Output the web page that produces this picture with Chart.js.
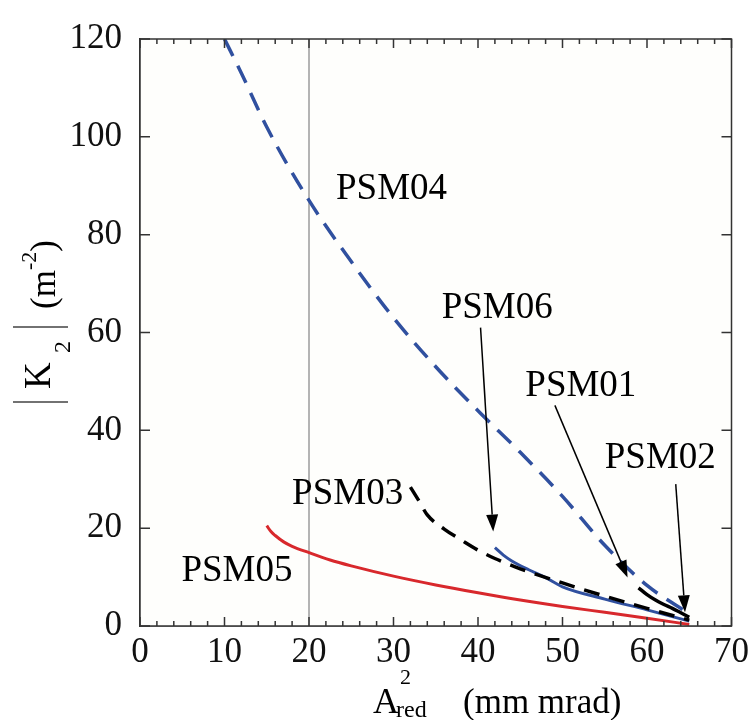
<!DOCTYPE html>
<html>
<head>
<meta charset="utf-8">
<script src="https://cdn.jsdelivr.net/npm/chart.js@4.4.0/dist/chart.umd.min.js"></script>
<style>
  html, body { margin: 0; padding: 0; background: #fff; }
  #wrap { width: 755px; height: 720px; }
</style>
</head>
<body>
<div id="wrap"><canvas id="chart" width="755" height="720"></canvas></div>
<script>
// curves: A2red (mm mrad) vs |K2| (m^-2)
const psm04X = [10, 12, 15, 20, 25, 30, 35, 40, 45, 50, 55, 60, 65];
const psm04Y = [120, 113, 102, 87, 74.5, 63, 53, 44, 35.5, 26.5, 16.5, 8.3, 2.5];

const psm05X = [15, 15.5, 16, 17, 18, 20, 22.5, 25, 30, 35, 40, 45, 50, 55, 60, 65];
const psm05Y = [20.5, 19.3, 18.5, 17.2, 16.3, 15, 13.5, 12.3, 10.2, 8.4, 6.8, 5.3, 4.0, 2.8, 1.6, 0.3];

const psm03X = [32, 33, 34, 36, 38, 40, 42, 45, 50, 55, 60, 65];
const psm03Y = [28.4, 25.6, 22.7, 19.8, 17.6, 15.5, 13.8, 11.7, 8.8, 6.1, 3.6, 1.2];

const psm06X = [42, 43, 44, 46, 48, 50, 55, 60, 65];
const psm06Y = [16, 14.5, 13.3, 11.5, 9.9, 8.0, 5.5, 3.3, 1.0];

const psm01X = [59, 60, 61, 62, 63, 64, 65];
const psm01Y = [7.8, 6.4, 5.3, 4.4, 3.6, 2.7, 1.8];

const markerX = 20;

// curve labels, left end of baseline in data units
const labelNames = ['PSM04', 'PSM06', 'PSM01', 'PSM02', 'PSM03', 'PSM05'];
const labelX = [23.2, 35.7, 45.6, 55.0, 18.0, 4.9];
const labelY = [87.2, 63.0, 47.1, 32.4, 25.0, 9.3];

// arrows: from (x0,y0) to tip (x1,y1)
const arrowX0 = [40.3, 49.1, 63.4];
const arrowY0 = [61, 45.1, 29];
const arrowX1 = [41.8, 57.7, 64.5];
const arrowY1 = [19.3, 9.9, 2.8];

const xTicks = [0, 10, 20, 30, 40, 50, 60, 70];
const yTicks = [0, 20, 40, 60, 80, 100, 120];

const SERIF = '"Liberation Serif", "Times New Roman", Times, serif';
const BLUE = '#30509f';
const RED = '#d8282c';

function pts(xs, ys) {
    return xs.map((x, i) => ({x: x, y: ys[i]}));
}

const frame = {
    id: 'frame',
    beforeDatasetsDraw(chart) {
        const {ctx, chartArea: a} = chart;
        ctx.save();
        ctx.fillStyle = '#fefefc';
        ctx.fillRect(a.left, a.top, a.right - a.left, a.bottom - a.top);
        ctx.restore();
    },
    afterDraw(chart) {
        const {ctx, chartArea: a, scales} = chart;
        const xs = scales.x, ys = scales.y;
        ctx.save();
        ctx.strokeStyle = '#333';
        ctx.lineWidth = 1.5;
        ctx.strokeRect(a.left, a.top, a.right - a.left, a.bottom - a.top);
        ctx.beginPath();
        for (let v = 0; v <= 70; v += 2) {
            const p = xs.getPixelForValue(v);
            const len = v % 10 === 0 ? 9 : 5;
            ctx.moveTo(p, a.bottom); ctx.lineTo(p, a.bottom - len);
            ctx.moveTo(p, a.top); ctx.lineTo(p, a.top + len);
        }
        yTicks.forEach(v => {
            const p = ys.getPixelForValue(v);
            ctx.moveTo(a.left, p); ctx.lineTo(a.left + 10, p);
            ctx.moveTo(a.right, p); ctx.lineTo(a.right - 10, p);
        });
        ctx.stroke();

        // arrows
        ctx.strokeStyle = '#000';
        ctx.fillStyle = '#000';
        ctx.lineWidth = 1.5;
        arrowX0.forEach((x0, i) => {
            const px0 = xs.getPixelForValue(x0), py0 = ys.getPixelForValue(arrowY0[i]);
            const px1 = xs.getPixelForValue(arrowX1[i]), py1 = ys.getPixelForValue(arrowY1[i]);
            const ang = Math.atan2(py1 - py0, px1 - px0);
            const hl = 17, hw = 6;
            const bx = px1 - hl * Math.cos(ang), by = py1 - hl * Math.sin(ang);
            ctx.beginPath();
            ctx.moveTo(px0, py0); ctx.lineTo(bx, by);
            ctx.stroke();
            ctx.beginPath();
            ctx.moveTo(px1, py1);
            ctx.lineTo(bx + hw * Math.sin(ang), by - hw * Math.cos(ang));
            ctx.lineTo(bx - hw * Math.sin(ang), by + hw * Math.cos(ang));
            ctx.closePath();
            ctx.fill();
        });

        // curve labels
        ctx.font = '37px ' + SERIF;
        ctx.textAlign = 'left';
        ctx.textBaseline = 'alphabetic';
        labelNames.forEach((t, i) => {
            ctx.fillText(t, xs.getPixelForValue(labelX[i]), ys.getPixelForValue(labelY[i]));
        });

        // x title: A^2_red (mm mrad)
        ctx.font = '36px ' + SERIF;
        ctx.fillText('A', 373, 713);
        ctx.font = '22px ' + SERIF;
        ctx.fillText('2', 400, 684);
        ctx.font = '24px ' + SERIF;
        ctx.fillText('red', 396, 717);
        ctx.font = '35px ' + SERIF;
        ctx.fillText('(mm mrad)', 463, 713);

        // y title: |K_2| (m^-2), drawn rotated
        ctx.strokeStyle = '#444';
        ctx.lineWidth = 1.5;
        ctx.beginPath();
        ctx.moveTo(13, 402); ctx.lineTo(68, 402);
        ctx.moveTo(13, 327); ctx.lineTo(68, 327);
        ctx.stroke();
        ctx.rotate(-Math.PI / 2);
        ctx.font = '37px ' + SERIF;
        ctx.fillText('K', -389, 50);
        ctx.font = '24px ' + SERIF;
        ctx.fillText('2', -353, 70);
        ctx.font = '35px ' + SERIF;
        let u = -309;
        ctx.fillText('(m', u, 55);
        u += ctx.measureText('(m').width;
        ctx.font = '22px ' + SERIF;
        ctx.fillText('-2', u, 36);
        u += ctx.measureText('-2').width;
        ctx.font = '35px ' + SERIF;
        ctx.fillText(')', u, 55);
        ctx.restore();
    }
};

function build() {
    new Chart(document.getElementById('chart'), {
        type: 'line',
        data: {
            datasets: [
                {label: 'PSM04', data: pts(psm04X, psm04Y), borderColor: BLUE, borderWidth: 3.5, borderDash: [19, 11]},
                {label: 'PSM05', data: pts(psm05X, psm05Y), borderColor: RED, borderWidth: 3},
                {label: 'PSM03', data: pts(psm03X, psm03Y), borderColor: '#000', borderWidth: 3.5, borderDash: [16, 10]},
                {label: 'PSM06', data: pts(psm06X, psm06Y), borderColor: BLUE, borderWidth: 3},
                {label: 'PSM01', data: pts(psm01X, psm01Y), borderColor: '#000', borderWidth: 3.5},
                {label: 'marker', data: [{x: markerX, y: 0}, {x: markerX, y: 120}], borderColor: '#b4b4b4', borderWidth: 2, order: 10}
            ]
        },
        options: {
            responsive: false,
            animation: false,
            events: [],
            elements: {
                point: {radius: 0},
                line: {cubicInterpolationMode: 'monotone', fill: false}
            },
            layout: {padding: {top: 30, right: 20.5, left: 0, bottom: 0}},
            plugins: {legend: {display: false}, tooltip: {enabled: false}},
            scales: {
                x: {
                    type: 'linear', min: 0, max: 70,
                    afterFit: s => { s.height = 94; },
                    grid: {display: false, drawTicks: false},
                    border: {display: true, color: '#333', width: 1.5},
                    afterBuildTicks: s => { s.ticks = xTicks.map(v => ({value: v})); },
                    ticks: {color: '#111', font: {family: SERIF, size: 35}, padding: 6, maxRotation: 0}
                },
                y: {
                    type: 'linear', min: 0, max: 120,
                    afterFit: s => { s.width = 140; },
                    grid: {display: false, drawTicks: false},
                    border: {display: true, color: '#333', width: 1.5},
                    afterBuildTicks: s => { s.ticks = yTicks.map(v => ({value: v})); },
                    ticks: {color: '#111', font: {family: SERIF, size: 35}, padding: 18}
                }
            }
        },
        plugins: [frame]
    });
}

document.fonts.load('35px "Liberation Serif"').then(build, build);
</script>
</body>
</html>
